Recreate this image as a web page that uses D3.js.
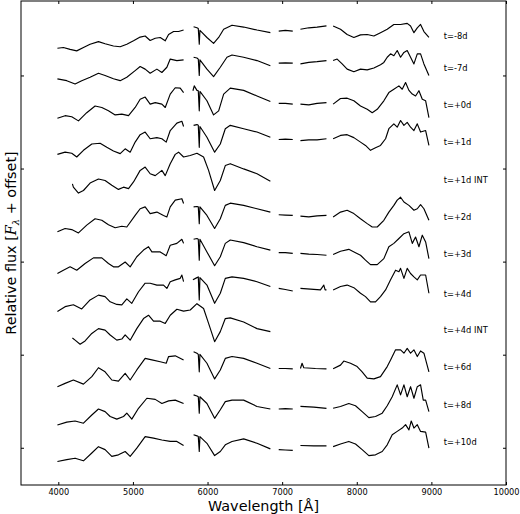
<!DOCTYPE html>
<html>
<head>
<meta charset="utf-8">
<script src="https://cdn.jsdelivr.net/npm/d3@7"></script>
<style>
  body { margin: 0; background: #fff; }
  text { font-family: "DejaVu Sans", sans-serif; }
</style>
</head>
<body>
<div id="chart"></div>
<script>
// axis ticks
const wavelengthTicks = [4000, 5000, 6000, 7000, 8000, 9000, 10000];
const fluxTicks = [0, 2.5, 5, 7.5, 10];

// epochs, top to bottom, with their vertical offsets
const epochs = ["t=-8d", "t=-7d", "t=+0d", "t=+1d", "t=+1d INT", "t=+2d",
                "t=+3d", "t=+4d", "t=+4d INT", "t=+6d", "t=+8d", "t=+10d"];
const offsets = [11.06, 10.21, 9.21, 8.20, 7.18, 6.19, 5.20, 4.13, 3.16, 2.17, 1.15, 0.16];

// spectra: [wavelength (A), relative flux], null = gap between chunks
const specM8 = [[3988,-0.33],[4068,-0.31],[4158,-0.36],[4247,-0.40],[4337,-0.31],[4426,-0.22],[4538,-0.15],[4627,-0.21],[4739,-0.27],[4829,-0.29],[4918,-0.22],[5008,-0.13],[5097,-0.03],[5164,0.00],[5231,-0.12],[5299,-0.06],[5366,-0.04],[5433,-0.13],[5478,0.04],[5545,0.12],[5612,0.12],[5679,0.16],
  null,[5813,0.25],[5858,0.22],[5876,0.20],[5889,-0.22],[5898,0.15],[5992,-0.04],[6081,-0.20],[6149,-0.04],[6216,0.18],[6328,0.29],[6484,0.24],[6663,0.16],[6842,0.09],
  null,[6954,0.13],[7043,0.15],[7142,0.13],
  null,[7245,0.18],[7357,0.22],[7468,0.24],[7594,0.27],
  null,[7683,0.27],[7782,0.18],[7871,0.04],[7961,-0.04],[8050,0.03],[8140,0.04],[8229,0.00],[8318,0.09],[8408,0.18],[8497,0.31],[8587,0.31],[8676,0.34],[8721,0.27],[8766,0.09],[8811,0.22],[8855,0.31],[8900,0.12],[8967,-0.04]];

const specM7 = [[3988,-0.30],[4113,-0.35],[4225,-0.44],[4314,-0.35],[4426,-0.26],[4538,-0.15],[4627,-0.21],[4739,-0.30],[4829,-0.35],[4918,-0.26],[5030,-0.08],[5097,0.03],[5164,-0.04],[5231,-0.15],[5321,-0.04],[5388,-0.13],[5455,0.01],[5500,0.23],[5589,0.19],[5679,0.21],
  null,[5813,0.28],[5858,0.26],[5876,0.23],[5889,-0.21],[5898,0.21],[5992,-0.04],[6081,-0.24],[6171,0.01],[6260,0.28],[6328,0.34],[6484,0.28],[6663,0.19],[6842,0.05],
  null,[6954,0.12],[7043,0.13],[7142,0.12],
  null,[7245,0.10],[7357,0.14],[7468,0.16],[7594,0.19],
  null,[7683,0.19],[7737,0.23],[7804,0.10],[7871,-0.04],[7961,-0.11],[8050,-0.04],[8140,-0.06],[8229,-0.01],[8318,0.08],[8363,0.14],[8408,0.28],[8453,0.37],[8497,0.32],[8542,0.46],[8587,0.28],[8632,0.41],[8676,0.46],[8721,0.28],[8766,0.10],[8811,0.37],[8855,0.37],[8900,0.10],[8967,-0.21]];

const specP0 = [[3988,-0.36],[4091,-0.29],[4180,-0.32],[4270,-0.43],[4381,-0.21],[4493,-0.03],[4583,-0.07],[4672,-0.16],[4762,-0.27],[4851,-0.25],[4941,-0.29],[5030,-0.07],[5097,0.15],[5164,0.21],[5231,0.02],[5299,0.06],[5388,0.02],[5433,-0.07],[5500,0.29],[5567,0.46],[5634,0.45],[5679,0.33],
  null,[5804,0.38],[5822,0.51],[5858,0.39],[5876,0.38],[5889,-0.16],[5898,0.36],[5992,0.11],[6081,-0.27],[6149,-0.16],[6216,0.29],[6305,0.45],[6484,0.39],[6663,0.24],[6842,0.09],
  null,[6954,0.04],[7043,0.04],[7142,0.02],
  null,[7245,0.02],[7357,0.00],[7468,0.04],[7594,0.06],
  null,[7683,0.02],[7782,0.17],[7871,0.18],[7961,0.11],[8050,-0.03],[8140,-0.12],[8207,-0.21],[8274,-0.12],[8363,0.11],[8430,0.33],[8497,0.42],[8565,0.51],[8609,0.42],[8654,0.60],[8699,0.39],[8744,0.29],[8788,0.24],[8833,0.38],[8878,0.15],[8923,0.11],[8967,-0.34]];

const specP1 = [[3988,-0.32],[4091,-0.26],[4180,-0.29],[4247,-0.39],[4337,-0.21],[4449,-0.04],[4560,-0.02],[4650,-0.13],[4739,-0.23],[4829,-0.30],[4896,-0.17],[4963,-0.26],[5030,0.01],[5097,0.21],[5164,0.28],[5231,0.10],[5321,0.13],[5388,0.10],[5446,0.01],[5500,0.32],[5589,0.52],[5656,0.57],[5679,0.43],
  null,[5813,0.46],[5858,0.48],[5876,0.46],[5889,-0.13],[5898,0.43],[5992,0.14],[6095,-0.26],[6171,-0.04],[6238,0.37],[6305,0.46],[6484,0.37],[6663,0.28],[6842,0.14],
  null,[6954,0.08],[7043,0.09],[7142,0.08],
  null,[7245,0.05],[7357,0.07],[7468,0.07],[7594,0.10],
  null,[7683,0.10],[7782,0.19],[7871,0.21],[7961,0.13],[8050,0.01],[8117,-0.08],[8184,-0.21],[8251,-0.14],[8318,-0.08],[8386,0.10],[8430,0.37],[8497,0.50],[8542,0.41],[8587,0.59],[8632,0.46],[8676,0.54],[8721,0.41],[8766,0.32],[8811,0.50],[8855,0.28],[8923,0.32],[8967,-0.08]];

const specP1Int = [[4189,-0.09],[4202,-0.18],[4270,-0.34],[4337,-0.27],[4426,-0.07],[4538,0.04],[4627,0.00],[4717,-0.13],[4806,-0.24],[4874,-0.18],[4941,-0.22],[5008,-0.04],[5097,0.27],[5164,0.36],[5231,0.18],[5299,0.13],[5388,0.27],[5433,0.13],[5500,0.45],[5567,0.70],[5612,0.76],[5679,0.63],[5768,0.67],[5858,0.73],[5947,0.63],[6014,0.27],[6095,-0.27],[6171,0.00],[6238,0.40],[6305,0.45],[6484,0.31],[6663,0.18],[6842,-0.02]];

const specP2 = [[3988,-0.39],[4091,-0.30],[4180,-0.33],[4270,-0.42],[4381,-0.21],[4493,-0.04],[4583,-0.08],[4672,-0.20],[4762,-0.28],[4851,-0.24],[4918,-0.26],[5030,0.05],[5097,0.23],[5164,0.28],[5231,0.10],[5321,0.14],[5410,0.05],[5455,0.01],[5500,0.28],[5567,0.46],[5656,0.50],[5679,0.37],
  null,[5813,0.28],[5858,0.29],[5876,0.28],[5889,-0.17],[5898,0.28],[5992,0.05],[6095,-0.30],[6171,-0.04],[6238,0.32],[6305,0.38],[6484,0.32],[6663,0.23],[6842,0.14],
  null,[6954,0.07],[7043,0.06],[7142,0.05],
  null,[7245,0.03],[7357,0.01],[7468,0.04],[7594,0.05],
  null,[7683,0.01],[7782,0.14],[7871,0.19],[7961,0.10],[8050,-0.04],[8140,-0.17],[8207,-0.26],[8274,-0.26],[8363,-0.08],[8430,0.14],[8497,0.32],[8542,0.46],[8587,0.54],[8632,0.41],[8699,0.32],[8766,0.19],[8811,0.23],[8855,0.34],[8900,0.23],[8967,-0.08]];

const specP3 = [[3988,-0.52],[4068,-0.43],[4158,-0.34],[4247,-0.43],[4359,-0.25],[4471,-0.10],[4583,-0.10],[4672,-0.25],[4739,-0.34],[4806,-0.34],[4896,-0.21],[4963,-0.34],[5052,-0.07],[5142,0.11],[5209,0.20],[5254,0.06],[5366,0.06],[5446,-0.04],[5500,0.24],[5589,0.29],[5656,0.40],[5679,0.29],
  null,[5813,0.40],[5858,0.42],[5876,0.40],[5889,-0.16],[5898,0.40],[5992,0.06],[6095,-0.31],[6171,-0.07],[6238,0.29],[6305,0.38],[6484,0.31],[6663,0.20],[6842,0.11],
  null,[6954,0.04],[7043,0.04],[7142,0.02],
  null,[7245,0.02],[7357,0.00],[7468,-0.01],[7594,-0.03],
  null,[7683,-0.01],[7782,0.08],[7893,0.13],[7983,0.04],[8050,-0.03],[8117,-0.16],[8184,-0.28],[8274,-0.28],[8363,-0.12],[8430,0.20],[8497,0.29],[8565,0.42],[8632,0.55],[8699,0.60],[8744,0.29],[8788,0.46],[8833,0.20],[8878,0.51],[8923,0.33],[8967,-0.12]];

const specP4 = [[3988,-0.47],[4091,-0.34],[4202,-0.29],[4314,-0.40],[4426,-0.16],[4538,-0.03],[4627,-0.07],[4695,-0.21],[4784,-0.28],[4851,-0.29],[4918,-0.13],[4985,-0.25],[5075,0.06],[5164,0.29],[5231,0.29],[5321,0.24],[5410,0.24],[5455,0.15],[5500,0.33],[5567,0.38],[5634,0.42],[5656,0.51],[5679,0.33],
  null,[5804,0.38],[5858,0.44],[5876,0.46],[5889,-0.16],[5898,0.44],[5992,0.24],[6095,-0.25],[6171,0.02],[6238,0.42],[6328,0.46],[6484,0.42],[6663,0.33],[6842,0.20],
  null,[6954,0.15],[7043,0.12],[7142,0.08],
  null,[7245,0.15],[7379,0.13],[7513,0.11],[7558,0.24],[7576,0.11],[7594,0.11],
  null,[7683,0.11],[7782,0.20],[7871,0.24],[7961,0.17],[8050,0.02],[8117,-0.07],[8184,-0.21],[8251,-0.21],[8318,-0.07],[8386,0.11],[8453,0.38],[8520,0.64],[8565,0.60],[8587,0.69],[8632,0.42],[8676,0.69],[8721,0.55],[8766,0.46],[8811,0.38],[8855,0.51],[8923,0.51],[8967,0.02]];

const specP4Int = [[4189,-0.21],[4225,-0.27],[4292,-0.38],[4359,-0.29],[4449,-0.09],[4538,0.04],[4627,0.00],[4695,-0.13],[4784,-0.27],[4851,-0.24],[4896,-0.13],[4963,-0.27],[5052,0.04],[5142,0.31],[5209,0.40],[5276,0.24],[5366,0.24],[5433,0.18],[5500,0.40],[5589,0.56],[5679,0.51],[5768,0.54],[5858,0.71],[5947,0.58],[6014,0.18],[6095,-0.31],[6171,-0.04],[6238,0.31],[6305,0.33],[6484,0.22],[6663,0.04],[6842,-0.04]];

const specP6 = [[3988,-0.53],[4091,-0.44],[4202,-0.35],[4337,-0.46],[4449,-0.26],[4538,-0.02],[4627,-0.13],[4717,-0.35],[4806,-0.38],[4896,-0.17],[4963,-0.35],[5052,-0.08],[5164,0.23],[5254,0.19],[5366,0.14],[5446,0.10],[5478,0.28],[5567,0.30],[5679,0.19],
  null,[5813,0.41],[5858,0.37],[5876,0.34],[5889,-0.13],[5898,0.34],[5992,0.10],[6095,-0.32],[6171,-0.08],[6238,0.23],[6328,0.28],[6484,0.23],[6663,0.10],[6842,-0.04],
  null,[6954,-0.04],[7043,-0.04],[7142,-0.05],
  null,[7245,-0.04],[7267,0.10],[7290,-0.02],[7446,-0.04],[7594,-0.05],
  null,[7683,-0.05],[7782,0.05],[7826,0.16],[7916,0.10],[8005,0.01],[8072,-0.13],[8140,-0.30],[8229,-0.32],[8318,-0.26],[8408,0.01],[8453,0.19],[8520,0.46],[8587,0.46],[8632,0.37],[8676,0.50],[8721,0.37],[8766,0.46],[8811,0.28],[8855,0.43],[8900,0.37],[8967,-0.13]];

const specP8 = [[3988,-0.54],[4113,-0.46],[4225,-0.43],[4337,-0.49],[4449,-0.27],[4538,-0.11],[4627,-0.18],[4695,-0.31],[4784,-0.38],[4874,-0.31],[4918,-0.22],[4985,-0.38],[5075,-0.09],[5187,0.18],[5299,0.15],[5388,0.04],[5478,0.11],[5567,0.13],[5679,0.04],
  null,[5813,0.27],[5858,0.24],[5876,0.22],[5889,-0.22],[5898,0.22],[5992,0.04],[6095,-0.36],[6171,-0.13],[6238,0.09],[6328,0.13],[6484,0.13],[6663,-0.04],[6842,-0.11],
  null,[6954,-0.11],[7043,-0.10],[7142,-0.11],
  null,[7245,-0.04],[7424,-0.06],[7594,-0.09],
  null,[7683,-0.09],[7782,-0.04],[7893,0.04],[7983,-0.02],[8072,-0.18],[8162,-0.34],[8251,-0.31],[8341,-0.22],[8408,-0.02],[8475,0.22],[8542,0.54],[8587,0.27],[8632,0.54],[8676,0.22],[8721,0.49],[8766,0.18],[8811,0.49],[8855,0.54],[8891,0.13],[8923,0.13],[8967,-0.18]];

const specP10 = [[3988,-0.53],[4113,-0.48],[4225,-0.44],[4337,-0.51],[4449,-0.30],[4538,-0.13],[4627,-0.21],[4717,-0.39],[4806,-0.35],[4896,-0.26],[4963,-0.39],[5052,-0.17],[5164,0.14],[5276,0.10],[5388,0.05],[5500,0.01],[5589,0.01],[5679,-0.10],
  null,[5813,0.19],[5858,0.16],[5876,0.14],[5889,-0.26],[5898,0.14],[5992,-0.04],[6095,-0.37],[6171,-0.26],[6238,-0.08],[6328,0.01],[6484,0.08],[6663,-0.04],[6842,-0.19],
  null,[6954,-0.21],[7043,-0.22],[7142,-0.23],
  null,[7245,-0.10],[7424,-0.11],[7594,-0.11],
  null,[7683,-0.13],[7782,-0.06],[7893,0.01],[7983,-0.06],[8072,-0.21],[8162,-0.37],[8251,-0.35],[8341,-0.26],[8408,-0.08],[8475,0.19],[8542,0.28],[8609,0.37],[8654,0.46],[8699,0.32],[8730,0.56],[8766,0.37],[8811,0.46],[8855,0.28],[8923,0.26],[8967,-0.17]];

const spectra = [specM8, specM7, specP0, specP1, specP1Int, specP2,
                 specP3, specP4, specP4Int, specP6, specP8, specP10];

const width = 520, height = 514;
const margin = { left: 21, right: 14, top: 1, bottom: 29 };

const svg = d3.select("#chart").append("svg")
  .attr("width", width)
  .attr("height", height);

const x = d3.scaleLinear()
  .domain([3500, 10000])
  .range([margin.left, width - margin.right]);

const y = d3.scaleLinear()
  .domain([-1, 12])
  .range([height - margin.bottom, margin.top]);

const line = d3.line()
  .defined(d => d !== null)
  .x(d => x(d[0]));

// spectra
spectra.forEach((spec, i) => {
  const off = offsets[i];
  svg.append("path")
    .datum(spec)
    .attr("fill", "none")
    .attr("stroke", "#000")
    .attr("stroke-width", 1.15)
    .attr("stroke-linejoin", "round")
    .attr("d", line.y(d => y(d[1] + off)));
});

// epoch labels
svg.selectAll(".epoch")
  .data(epochs)
  .join("text")
  .attr("class", "epoch")
  .attr("x", x(9165))
  .attr("y", (d, i) => y(offsets[i]))
  .attr("dy", "0.35em")
  .attr("font-size", 8.3)
  .attr("fill", "#000")
  .text(d => d);

// frame
svg.append("rect")
  .attr("x", x(3500))
  .attr("y", y(12))
  .attr("width", x(10000) - x(3500))
  .attr("height", y(-1) - y(12))
  .attr("fill", "none")
  .attr("stroke", "#000")
  .attr("stroke-width", 1);

// ticks, pointing inwards
const tickLen = 3;
const bottom = svg.append("g")
  .attr("transform", `translate(0,${y(-1)})`)
  .call(d3.axisBottom(x).tickValues(wavelengthTicks).tickSize(-tickLen).tickPadding(4).tickFormat(d3.format("d")));
bottom.selectAll("text").attr("font-size", 8.2).attr("fill", "#000").attr("font-family", "DejaVu Sans");

svg.append("g")
  .attr("transform", `translate(0,${y(12)})`)
  .call(d3.axisTop(x).tickValues(wavelengthTicks).tickSize(-tickLen).tickFormat(""));

svg.append("g")
  .attr("transform", `translate(${x(3500)},0)`)
  .call(d3.axisLeft(y).tickValues(fluxTicks).tickSize(-tickLen).tickFormat(""));

svg.append("g")
  .attr("transform", `translate(${x(10000)},0)`)
  .call(d3.axisRight(y).tickValues(fluxTicks).tickSize(-tickLen).tickFormat(""));

svg.selectAll(".domain").remove();

// axis titles
svg.append("text")
  .attr("x", (x(3500) + x(10000)) / 2)
  .attr("y", 511)
  .attr("text-anchor", "middle")
  .attr("font-size", 14.4)
  .text("Wavelength [Å]");

const ylab = svg.append("text")
  .attr("transform", `translate(16,${(y(-1) + y(12)) / 2}) rotate(-90)`)
  .attr("text-anchor", "middle")
  .attr("font-size", 14.4);
ylab.append("tspan").text("Relative flux [");
ylab.append("tspan").attr("font-style", "italic").attr("font-family", "DejaVu Serif").text("F");
ylab.append("tspan").attr("font-size", 10).attr("font-style", "italic").attr("font-family", "DejaVu Serif").attr("dy", 3).text("λ");
ylab.append("tspan").attr("dy", -3).text(" + offset]");
</script>
</body>
</html>
